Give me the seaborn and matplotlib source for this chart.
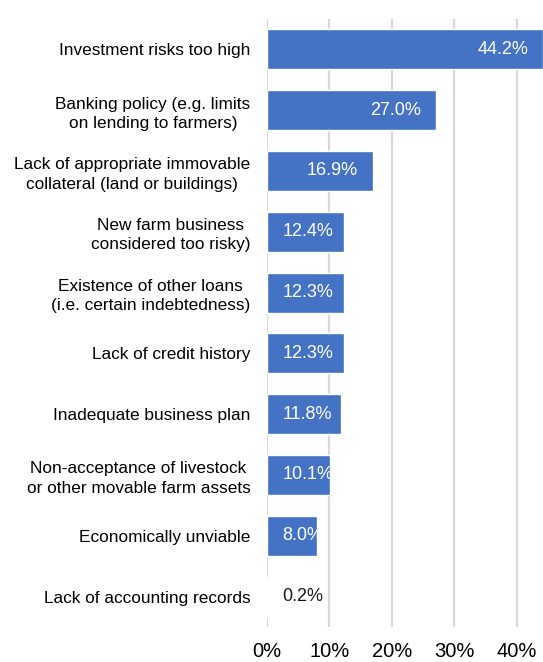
import matplotlib.pyplot as plt
import pandas as pd
import seaborn as sns

# data
categories = [
    'Investment risks too high',
    'Banking policy (e.g. limits\non lending to farmers)',
    'Lack of appropriate immovable\ncollateral (land or buildings)',
    'New farm business\nconsidered too risky)',
    'Existence of other loans\n(i.e. certain indebtedness)',
    'Lack of credit history',
    'Inadequate business plan',
    'Non-acceptance of livestock\nor other movable farm assets',
    'Economically unviable',
    'Lack of accounting records',
]
shares = [44.2, 27.0, 16.9, 12.4, 12.3, 12.3, 11.8, 10.1, 8.0, 0.2]
xticks = [0, 10, 20, 30, 40]

df = pd.DataFrame({'reason': categories, 'share': shares})

sns.set_theme(style='white')
plt.rcParams['font.family'] = ['Liberation Sans', 'DejaVu Sans']

fig = plt.figure(figsize=(5.43, 6.62), dpi=100)
ax = fig.add_axes([0.4917, 0.0529, 0.5083, 0.9184])

sns.barplot(data=df, x='share', y='reason', orient='h', color='#4472C4',
            saturation=1, width=0.66, ax=ax, zorder=3)

ax.set_xlim(0, 44.2)
ax.set_ylim(9.5, -0.5)
ax.set_xticks(xticks)
ax.set_xticklabels([f'{t}%' for t in xticks], fontsize=14.5, color='#000000')
ax.tick_params(axis='x', length=0, pad=11)
ax.tick_params(axis='y', length=0, pad=12)
for lab in ax.get_yticklabels():
    lab.set_fontsize(12.4)
    lab.set_multialignment('center')
    lab.set_linespacing(1.35)
    lab.set_color('#000000')
ax.set_xlabel('')
ax.set_ylabel('')
for s in ax.spines.values():
    s.set_visible(False)
ax.grid(axis='x', color='#D9D9D9', linewidth=1.6, zorder=0)
ax.set_axisbelow(True)

# value labels: inside end of bar, pushed right when the bar is short
for i, v in enumerate(shares):
    if v < 1:
        ax.text(2.5, i, f'{v:.1f}%', ha='left', va='center', fontsize=13, color='#1a1a1a', zorder=4)
    elif v < 15:
        ax.text(2.5, i, f'{v:.1f}%', ha='left', va='center', fontsize=13, color='white', zorder=4)
    else:
        ax.text(v - 2.3, i, f'{v:.1f}%', ha='right', va='center', fontsize=13, color='white', zorder=4)

fig.savefig('out.png', dpi=100)
